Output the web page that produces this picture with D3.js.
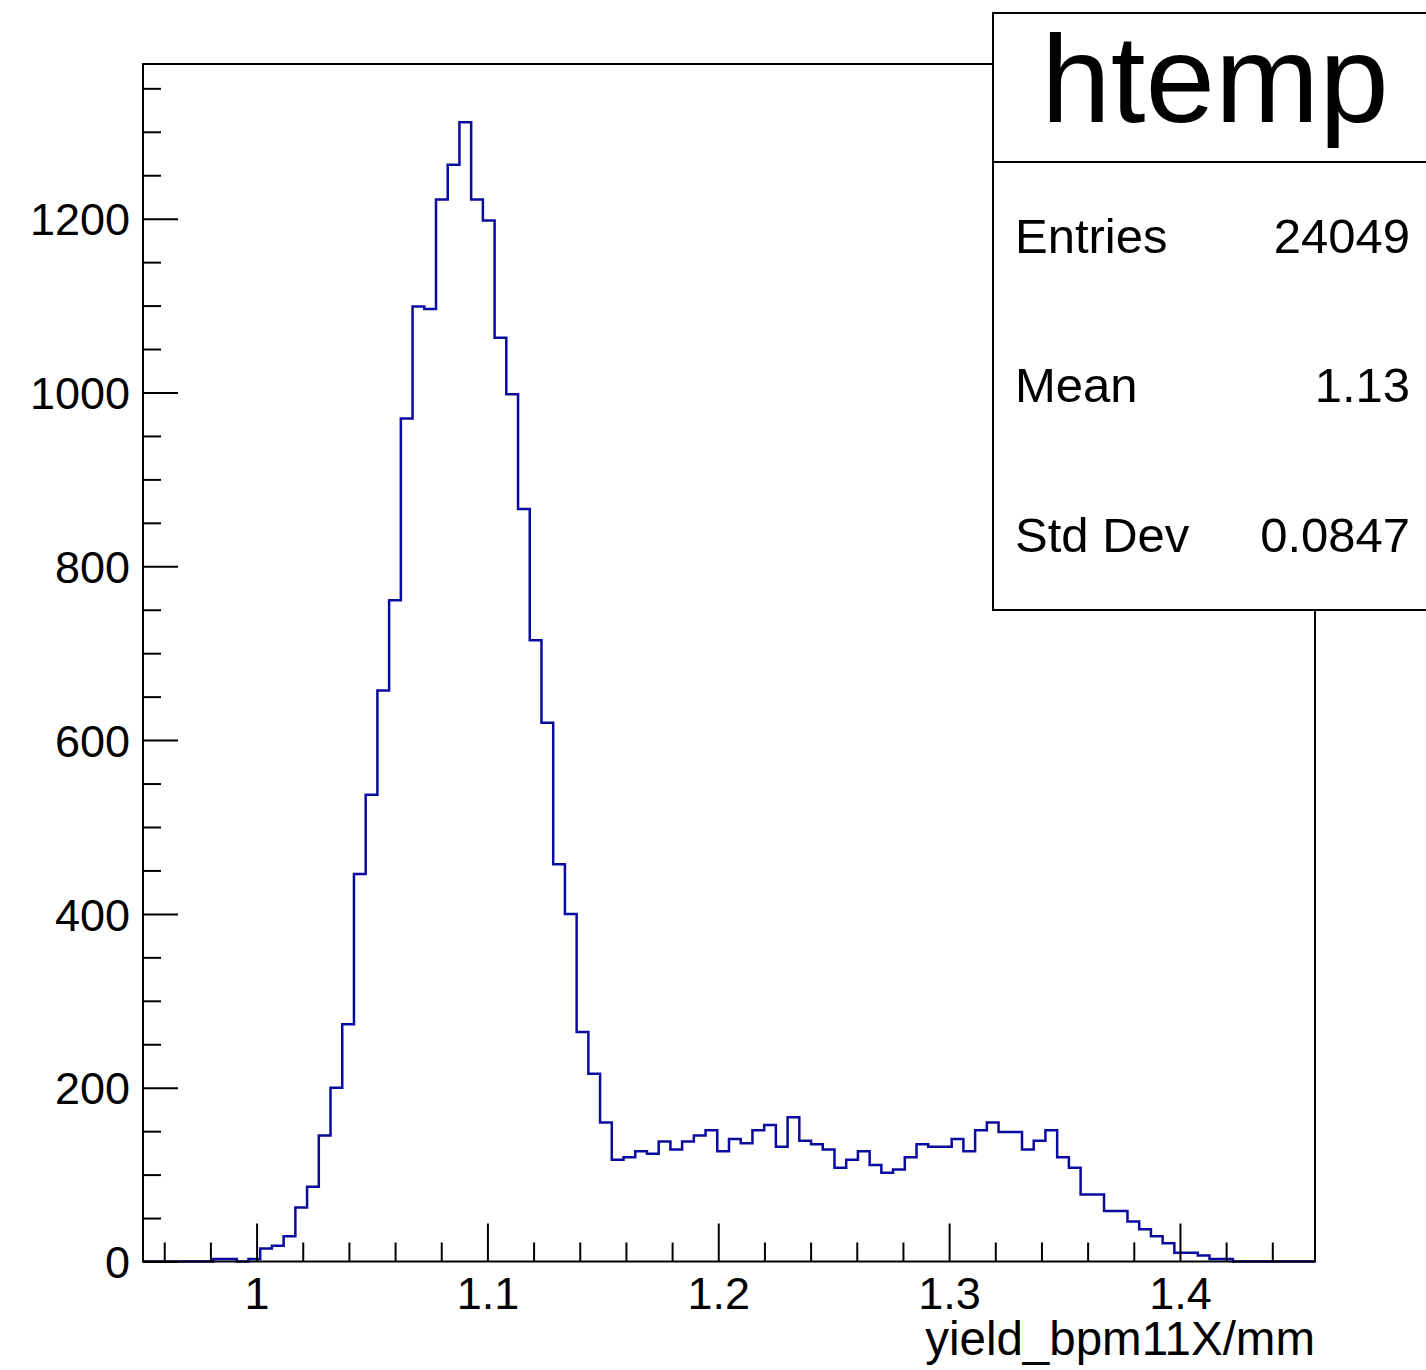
<!DOCTYPE html>
<html>
<head>
<meta charset="utf-8">
<script src="https://cdn.jsdelivr.net/npm/d3@7"></script>
<style>
  html, body { margin: 0; padding: 0; background: #fff; }
  svg { display: block; }
  text { font-family: "Liberation Sans", Arial, Helvetica, sans-serif; fill: #000; }
</style>
</head>
<body>
<svg id="chart" width="1426" height="1370"></svg>
<script>
// ---- data ----
const histName = "htemp";
const xTitle = "yield_bpm11X/mm";
const xMin = 0.9508, xMax = 1.4585;       // histogram range
const nBins = 100;
const counts = [
  0, 0, 0, 0, 0, 0, 3, 3, 0, 3,
  15, 18, 29, 62, 86, 145, 200, 273, 446, 537,
  657, 761, 970, 1099, 1096, 1222, 1262, 1311, 1222, 1198,
  1063, 998, 866, 715, 620, 457, 400, 264, 216, 160,
  117, 120, 127, 124, 138, 129, 138, 145, 151, 127,
  141, 136, 151, 157, 132, 166, 139, 135, 129, 108,
  117, 127, 111, 102, 106, 120, 135, 132, 132, 141,
  127, 151, 160, 149, 149, 129, 139, 151, 120, 108,
  77, 77, 58, 58, 46, 37, 29, 21, 10, 10,
  7, 3, 3, 0, 0, 0, 0, 0, 0, 0
];
const yMax = 1378;
const xMajorTicks = [1, 1.1, 1.2, 1.3, 1.4];
const xMajorLabels = ["1", "1.1", "1.2", "1.3", "1.4"];
const xMinorTicks = [0.96, 0.98, 1.02, 1.04, 1.06, 1.08, 1.12, 1.14, 1.16, 1.18,
                     1.22, 1.24, 1.26, 1.28, 1.32, 1.34, 1.36, 1.38, 1.42, 1.44];
const yMajorTicks = [0, 200, 400, 600, 800, 1000, 1200];
const yMinorTicks = [50, 100, 150, 250, 300, 350, 450, 500, 550, 650, 700, 750,
                     850, 900, 950, 1050, 1100, 1150, 1250, 1300, 1350];
const statLabels = ["Entries", "Mean", "Std Dev"];
const statValues = ["24049", "1.13", "0.0847"];

// ---- layout ----
const frame = { left: 143, right: 1315, top: 64, bottom: 1261.5 };
const svg = d3.select("#chart");

const x = d3.scaleLinear().domain([xMin, xMax]).range([frame.left, frame.right]);
const y = d3.scaleLinear().domain([0, yMax]).range([frame.bottom, frame.top]);

// histogram step path
const binW = (xMax - xMin) / nBins;
const pts = [[x(xMin), y(0)]];
counts.forEach((c, i) => {
  const lo = xMin + i * binW, hi = xMin + (i + 1) * binW;
  pts.push([x(lo), y(c)]);
  pts.push([x(hi), y(c)]);
});
pts.push([x(xMax), y(0)]);

svg.append("path")
  .attr("d", d3.line()(pts))
  .attr("fill", "none")
  .attr("stroke", "#0a0aa0")
  .attr("stroke-width", 2.5)
  .attr("stroke-linejoin", "miter");

// frame
svg.append("rect")
  .attr("x", frame.left).attr("y", frame.top)
  .attr("width", frame.right - frame.left).attr("height", frame.bottom - frame.top)
  .attr("fill", "none").attr("stroke", "#000").attr("stroke-width", 2);

// axes (ticks pointing inside)
function styleAxis(g) {
  g.select(".domain").remove();
  g.selectAll(".tick line").attr("stroke", "#000").attr("stroke-width", 2);
}

// x major
const gxMaj = svg.append("g")
  .attr("transform", `translate(0,${frame.bottom})`)
  .call(d3.axisBottom(x).tickValues(xMajorTicks).tickSize(-38)
        .tickFormat((d, i) => xMajorLabels[i]));
styleAxis(gxMaj);
gxMaj.selectAll(".tick text")
  .attr("y", 47).attr("dy", 0)
  .style("font-size", "45px")
  .style("font-family", "'Liberation Sans', Arial, sans-serif");

// x minor
const gxMin = svg.append("g")
  .attr("transform", `translate(0,${frame.bottom})`)
  .call(d3.axisBottom(x).tickValues(xMinorTicks).tickSize(-19).tickFormat(""));
styleAxis(gxMin);

// y major
const gyMaj = svg.append("g")
  .attr("transform", `translate(${frame.left},0)`)
  .call(d3.axisLeft(y).tickValues(yMajorTicks).tickSize(-35).tickFormat(d3.format("d")));
styleAxis(gyMaj);
gyMaj.selectAll(".tick text")
  .attr("x", -13).attr("dy", "0.36em")
  .style("font-size", "45px")
  .style("font-family", "'Liberation Sans', Arial, sans-serif");

// y minor
const gyMin = svg.append("g")
  .attr("transform", `translate(${frame.left},0)`)
  .call(d3.axisLeft(y).tickValues(yMinorTicks).tickSize(-18).tickFormat(""));
styleAxis(gyMin);

// x axis title
svg.append("text")
  .attr("x", frame.right).attr("y", 1355)
  .attr("text-anchor", "end")
  .style("font-size", "47.5px")
  .text(xTitle);

// stats box
const box = { left: 993, top: 13, right: 1432, sep: 162, bottom: 610 };
svg.append("rect")
  .attr("x", box.left).attr("y", box.top)
  .attr("width", box.right - box.left).attr("height", box.bottom - box.top)
  .attr("fill", "#fff").attr("stroke", "#000").attr("stroke-width", 2);
svg.append("line")
  .attr("x1", box.left).attr("x2", box.right)
  .attr("y1", box.sep).attr("y2", box.sep)
  .attr("stroke", "#000").attr("stroke-width", 2);
svg.append("text")
  .attr("x", 1215).attr("y", 121.5)
  .attr("text-anchor", "middle")
  .style("font-size", "125px")
  .text(histName);

const rowH = (box.bottom - box.sep) / statLabels.length;
statLabels.forEach((lab, i) => {
  const base = 253 + i * rowH;
  svg.append("text")
    .attr("x", 1015).attr("y", base)
    .style("font-size", "49px")
    .text(lab);
  svg.append("text")
    .attr("x", 1410).attr("y", base)
    .attr("text-anchor", "end")
    .style("font-size", "49px")
    .text(statValues[i]);
});
</script>
</body>
</html>
